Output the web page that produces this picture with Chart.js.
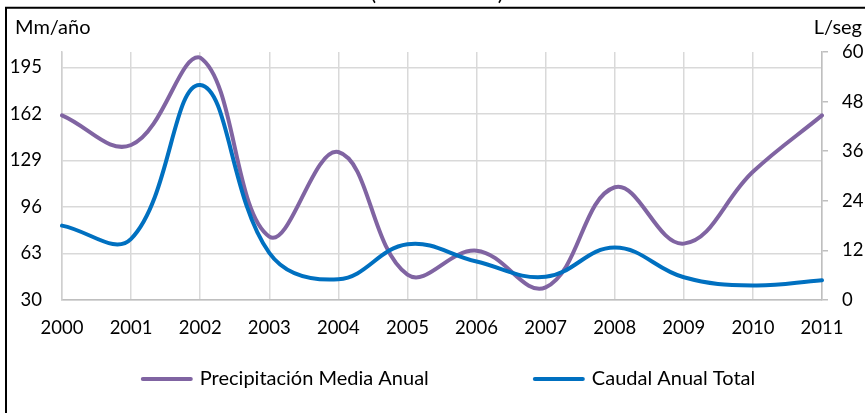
<!DOCTYPE html>
<html>
<head>
<meta charset="utf-8">
<script src="https://cdn.jsdelivr.net/npm/chart.js@4/dist/chart.umd.min.js"></script>
<style>
  html, body { margin: 0; padding: 0; background: #fff; }
  canvas { display: block; }
</style>
</head>
<body>
<canvas id="chart" width="865" height="413"></canvas>
<script>
// Años de la serie
const years = ['2000', '2001', '2002', '2003', '2004', '2005', '2006', '2007', '2008', '2009', '2010', '2011'];
// Precipitación media anual (Mm/año, eje izquierdo)
const precipitacion = [161, 140, 202, 75, 135, 48, 65, 39, 110, 70, 121, 161];
// Caudal anual total (L/seg, eje derecho)
const caudal = [18, 14.8, 52, 11.4, 5, 13.5, 9.3, 5.6, 12.7, 5.5, 3.5, 4.8];
// Marcas de los ejes
const leftTicks = [30, 63, 96, 129, 162, 195];
const rightTicks = [0, 12, 24, 36, 48, 60];

const FONT = 'Lato';
const TICK_SIZE = 18.5;
const TEXT_SIZE = 20;
const GRID = '#D9D9D9';
const AXIS = '#BFBFBF';

// Marco negro, títulos de ejes y leyenda
const decorations = {
  id: 'decorations',
  afterDraw(chart) {
    const ctx = chart.ctx;
    ctx.save();

    // Marco
    ctx.strokeStyle = '#000';
    ctx.lineWidth = 2;
    ctx.beginPath();
    ctx.moveTo(6, 413);
    ctx.lineTo(6, 7.7);
    ctx.lineTo(865, 7.7);
    ctx.stroke();

    // Título superior (sobresale por arriba)
    ctx.fillStyle = '#000';
    ctx.font = `22px ${FONT}`;
    ctx.textAlign = 'center';
    ctx.textBaseline = 'alphabetic';
    ctx.fillText('(2000 - 2011)', 437, -0.5);

    // Títulos de ejes
    ctx.font = `${TEXT_SIZE}px ${FONT}`;
    ctx.textBaseline = 'middle';
    ctx.textAlign = 'left';
    ctx.fillText('Mm/año', 15, 28);
    ctx.textAlign = 'right';
    ctx.fillText('L/seg', 862, 28);

    // Leyenda
    const sets = chart.data.datasets;
    const lineLen = 52, gapText = 7, gapItems = 104, ly = 379;
    const widths = sets.map(d => lineLen + gapText + ctx.measureText(d.label).width);
    const total = widths.reduce((a, b) => a + b, 0) + gapItems * (sets.length - 1);
    let x = 448 - total / 2;
    ctx.textAlign = 'left';
    sets.forEach((d, i) => {
      ctx.strokeStyle = d.borderColor;
      ctx.lineWidth = 4;
      ctx.lineCap = 'round';
      ctx.beginPath();
      ctx.moveTo(x + 2, ly);
      ctx.lineTo(x + lineLen - 2, ly);
      ctx.stroke();
      ctx.fillStyle = '#000';
      ctx.fillText(d.label, x + lineLen + gapText, ly);
      x += widths[i] + gapItems;
    });
    ctx.restore();
  }
};

new Chart(document.getElementById('chart'), {
  type: 'line',
  data: {
    labels: years,
    datasets: [
      {
        label: 'Precipitación Media Anual',
        data: precipitacion,
        borderColor: '#8064A2',
        backgroundColor: '#8064A2',
        yAxisID: 'y',
        order: 1
      },
      {
        label: 'Caudal Anual Total',
        data: caudal,
        borderColor: '#0070C0',
        backgroundColor: '#0070C0',
        yAxisID: 'y1',
        order: 0
      }
    ]
  },
  options: {
    responsive: false,
    devicePixelRatio: 1,
    animation: false,
    layout: { padding: { top: 52, left: 0, right: 0, bottom: 0 } },
    plugins: {
      legend: { display: false },
      tooltip: { enabled: false },
      title: { display: false }
    },
    elements: {
      point: { radius: 0 },
      line: { borderWidth: 4, tension: 0.4, borderCapStyle: 'round', borderJoinStyle: 'round', fill: false }
    },
    scales: {
      x: {
        type: 'category',
        offset: false,
        grid: { color: GRID, lineWidth: 1.5, drawTicks: false },
        border: { color: AXIS, width: 1.5 },
        ticks: { font: { family: FONT, size: TICK_SIZE }, color: '#000', padding: 17, maxRotation: 0, autoSkip: false },
        afterFit(s) { s.height = 113; }
      },
      y: {
        position: 'left',
        min: 30,
        max: 206,
        bounds: 'data',
        afterBuildTicks(s) { s.ticks = leftTicks.map(v => ({ value: v })); },
        grid: { color: GRID, lineWidth: 1.5, drawTicks: false },
        border: { display: true, color: '#CFCFCF', width: 1.5 },
        ticks: { font: { family: FONT, size: TICK_SIZE }, color: '#000', padding: 20 },
        afterFit(s) { s.width = 62; }
      },
      y1: {
        position: 'right',
        min: 0,
        max: 60,
        bounds: 'data',
        afterBuildTicks(s) { s.ticks = rightTicks.map(v => ({ value: v })); },
        grid: { drawOnChartArea: false, drawTicks: true, tickLength: 6, color: AXIS, lineWidth: 1.5 },
        border: { display: true, color: AXIS, width: 1.5 },
        ticks: { font: { family: FONT, size: TICK_SIZE }, color: '#000', padding: 14 },
        afterFit(s) { s.width = 43; }
      }
    }
  },
  plugins: [decorations]
});
</script>
</body>
</html>
